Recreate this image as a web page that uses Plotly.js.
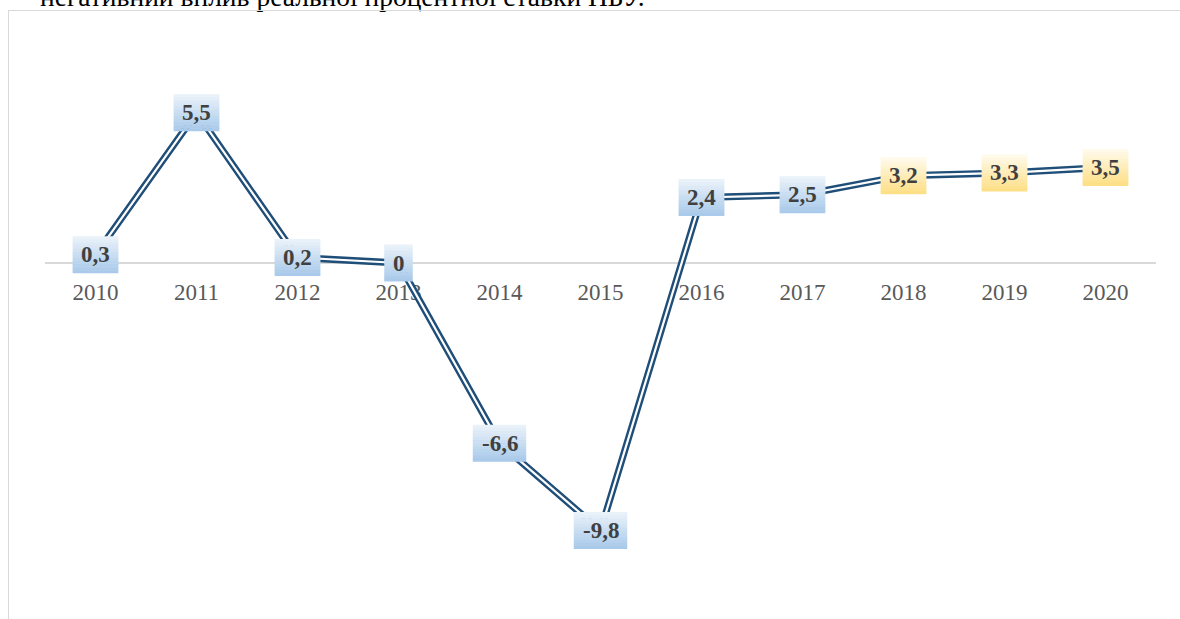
<!DOCTYPE html>
<html>
<head>
<meta charset="utf-8">
<script src="https://cdn.plot.ly/plotly-3.0.1.min.js"></script>
<style>
  html, body { margin: 0; padding: 0; width: 1180px; height: 619px; overflow: hidden; background: #fff; position: relative; }
  #caption { position: absolute; left: 40px; top: -17px; font-family: "Liberation Serif", "Times New Roman", serif; font-size: 27.5px; line-height: 1; color: #000; white-space: nowrap; }
  #frame { position: absolute; left: 8px; top: 10px; width: 1200px; height: 640px; border: 1.5px solid #d9d9d9; box-sizing: border-box; background: transparent; }
  #chart { width: 1200px; height: 640px; }
</style>
</head>
<body>
<div id="caption">негативний вплив реальної процентної ставки НБУ.</div>
<div id="frame"><div id="chart"></div></div>
<script>
// Data
const years = [2010, 2011, 2012, 2013, 2014, 2015, 2016, 2017, 2018, 2019, 2020];
const values = [0.3, 5.5, 0.2, 0, -6.6, -9.8, 2.4, 2.5, 3.2, 3.3, 3.5];
const labels = ["0,3", "5,5", "0,2", "0", "-6,6", "-9,8", "2,4", "2,5", "3,2", "3,3", "3,5"];
const forecast = [false, false, false, false, false, false, false, false, true, true, true];

const blueTop = [236, 243, 250], blueBot = [166, 200, 233];
const yelTop = [255, 251, 238], yelBot = [253, 222, 130];

function mix(a, b, t) {
  return 'rgb(' + a.map((v, i) => Math.round(v + (b[i] - v) * t)).join(',') + ')';
}
const fs = 23;
function textWidth(s) {
  let w = 0;
  for (const ch of s) {
    if (ch === ',') w += 0.25 * fs;
    else if (ch === '-') w += 0.333 * fs;
    else w += 0.5 * fs;
  }
  return w;
}

const shapes = [];
const annotations = [];
const bands = 12;
const boxH = 37;
years.forEach((yr, i) => {
  const w = textWidth(labels[i]) + 17;
  const top = forecast[i] ? yelTop : blueTop;
  const bot = forecast[i] ? yelBot : blueBot;
  for (let b = 0; b < bands; b++) {
    const y1 = boxH / 2 - b * boxH / bands;
    const y0 = y1 - boxH / bands - 0.6;
    shapes.push({
      type: 'rect', layer: 'above',
      xref: 'x', yref: 'y',
      xsizemode: 'pixel', ysizemode: 'pixel',
      xanchor: yr, yanchor: values[i],
      x0: -w / 2, x1: w / 2, y0: Math.max(y0, -boxH / 2), y1: y1,
      fillcolor: mix(top, bot, (b + 0.5) / bands),
      line: { width: 0 }
    });
  }
  annotations.push({
    x: yr, y: values[i], xref: 'x', yref: 'y',
    text: '<b>' + labels[i] + '</b>',
    showarrow: false,
    xanchor: 'center', yanchor: 'middle',
    font: { family: 'Liberation Serif, Times New Roman, serif', size: fs, color: '#404040' }
  });
});

const traces = [
  { x: years, y: values, type: 'scatter', mode: 'lines',
    line: { color: '#1f4e79', width: 7 }, hoverinfo: 'skip', showlegend: false },
  { x: years, y: values, type: 'scatter', mode: 'lines',
    line: { color: '#ffffff', width: 2.2 }, hoverinfo: 'skip', showlegend: false }
];

const layout = {
  width: 1200, height: 640,
  margin: { l: 36, r: 53, t: 49, b: 91 },
  paper_bgcolor: 'rgba(0,0,0,0)', plot_bgcolor: 'rgba(0,0,0,0)',
  showlegend: false,
  xaxis: {
    range: [2009.5, 2020.5],
    tickvals: years,
    ticktext: years.map(String),
    showgrid: false, zeroline: false, showline: false,
    ticks: '',
    ticklabelstandoff: 13,
    anchor: 'free', position: (560 - 263) / 500,
    layer: 'below traces',
    tickfont: { family: 'Liberation Serif, Times New Roman, serif', size: 23, color: '#595959' },
    fixedrange: true
  },
  yaxis: {
    range: [-297 / 27.3, 203 / 27.3],
    showgrid: false, showticklabels: false, showline: false, ticks: '',
    zeroline: true, zerolinecolor: '#d9d9d9', zerolinewidth: 1.5,
    layer: 'below traces',
    fixedrange: true
  },
  shapes: shapes,
  annotations: annotations
};

Plotly.newPlot('chart', traces, layout, { displayModeBar: false, staticPlot: true });
</script>
</body>
</html>
